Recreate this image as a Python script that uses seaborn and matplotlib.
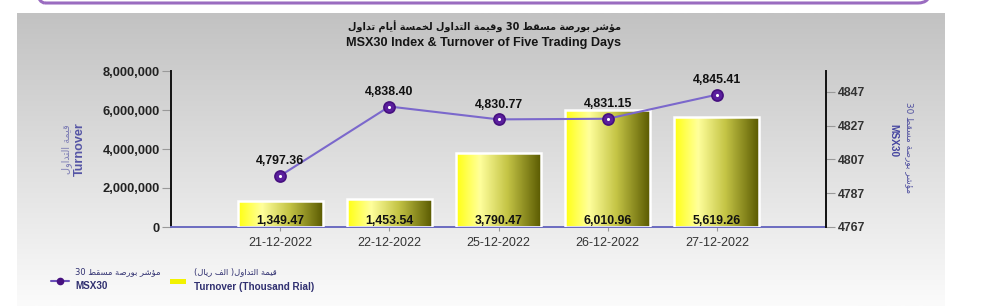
import re
import numpy as np
import matplotlib
matplotlib.use("Agg")
import matplotlib.pyplot as plt
import seaborn as sns
from matplotlib.colors import LinearSegmentedColormap
from matplotlib.patches import FancyBboxPatch, Rectangle
from matplotlib.lines import Line2D
from matplotlib.transforms import IdentityTransform
from matplotlib.ticker import FuncFormatter

# ---------------- data ----------------
dates = ["21-12-2022", "22-12-2022", "25-12-2022", "26-12-2022", "27-12-2022"]
turnover_thousand = [1349.47, 1453.54, 3790.47, 6010.96, 5619.26]
turnover_labels = ["1,349.47", "1,453.54", "3,790.47", "6,010.96", "5,619.26"]
msx30 = [4797.36, 4838.40, 4830.77, 4831.15, 4845.41]
msx30_labels = ["4,797.36", "4,838.40", "4,830.77", "4,831.15", "4,845.41"]
left_ticks = [0, 2000000, 4000000, 6000000, 8000000]
right_ticks = [4767, 4787, 4807, 4827, 4847]

title_ar = "مؤشر بورصة مسقط 30 وقيمة التداول لخمسة أيام تداول"
title_en = "MSX30 Index & Turnover of Five Trading Days"
left_ar = "قيمة التداول"
left_en = "Turnover"
right_ar = "مؤشر بورصة مسقط 30"
right_en = "MSX30"
leg1_ar = "مؤشر بورصة مسقط 30"
leg1_en = "MSX30"
leg2_ar = "قيمة التداول( الف ريال)"
leg2_en = "Turnover (Thousand Rial)"

# ---------------- minimal Arabic shaping ----------------
FORMS = {
    'ا': ('\uFE8D', '\uFE8E', None, None),
    'أ': ('\uFE83', '\uFE84', None, None),
    'ؤ': ('\uFE85', '\uFE86', None, None),
    'ب': ('\uFE8F', '\uFE90', '\uFE91', '\uFE92'),
    'ة': ('\uFE93', '\uFE94', None, None),
    'ت': ('\uFE95', '\uFE96', '\uFE97', '\uFE98'),
    'خ': ('\uFEA5', '\uFEA6', '\uFEA7', '\uFEA8'),
    'د': ('\uFEA9', '\uFEAA', None, None),
    'ر': ('\uFEAD', '\uFEAE', None, None),
    'س': ('\uFEB1', '\uFEB2', '\uFEB3', '\uFEB4'),
    'ش': ('\uFEB5', '\uFEB6', '\uFEB7', '\uFEB8'),
    'ص': ('\uFEB9', '\uFEBA', '\uFEBB', '\uFEBC'),
    'ط': ('\uFEC1', '\uFEC2', '\uFEC3', '\uFEC4'),
    'ف': ('\uFED1', '\uFED2', '\uFED3', '\uFED4'),
    'ق': ('\uFED5', '\uFED6', '\uFED7', '\uFED8'),
    'ل': ('\uFEDD', '\uFEDE', '\uFEDF', '\uFEE0'),
    'م': ('\uFEE1', '\uFEE2', '\uFEE3', '\uFEE4'),
    'و': ('\uFEED', '\uFEEE', None, None),
    'ي': ('\uFEF1', '\uFEF2', '\uFEF3', '\uFEF4'),
}


def shape_ar(text):
    out = []
    n = len(text)
    for i, ch in enumerate(text):
        if ch not in FORMS:
            out.append(ch)
            continue
        prev = text[i - 1] if i > 0 else ''
        nxt = text[i + 1] if i < n - 1 else ''
        jp = prev in FORMS and FORMS[prev][2] is not None
        jn = FORMS[ch][2] is not None and nxt in FORMS
        f = FORMS[ch]
        if jp and jn:
            out.append(f[3])
        elif jp:
            out.append(f[1])
        elif jn:
            out.append(f[2])
        else:
            out.append(f[0])
    s = ''.join(out)[::-1]
    s = re.sub(r'[0-9]+', lambda m: m.group()[::-1], s)
    s = s.translate(str.maketrans('()', ')('))
    return s


AR = ['DejaVu Sans']
EN = ['Liberation Sans', 'DejaVu Sans']

sns.set_theme(style="white")
plt.rcParams['font.family'] = EN

W, H = 1000, 306
fig = plt.figure(figsize=(W / 100, H / 100), dpi=100)
fig.patch.set_facecolor('white')

# gradient panel
bg = fig.add_axes([17 / W, 0, (944 - 17) / W, (H - 13) / H], zorder=-10)
bg_cmap = LinearSegmentedColormap.from_list('bg', ['#C2C2C2', '#FBFBFB'])
bg.imshow(np.linspace(0, 1, 256)[:, None], cmap=bg_cmap, aspect='auto',
          extent=[0, 1, 0, 1])
bg.set_axis_off()

# purple rounded border at top
border = FancyBboxPatch((33, H - 3), 930 - 33, 60,
                        boxstyle='round,pad=0,rounding_size=12',
                        transform=IdentityTransform(), fill=False,
                        edgecolor='#9A6CC0', linewidth=2.2)
fig.add_artist(border)

# main axes
ax = fig.add_axes([171 / W, (H - 227) / H, (826 - 171) / W, 156 / H])
ax.patch.set_alpha(0)
turnover_rial = [v * 1000 for v in turnover_thousand]
sns.barplot(x=dates, y=turnover_rial, ax=ax, width=0.78, color='yellow',
            saturation=1, edgecolor='white', linewidth=1.8, zorder=3)

bar_cmap = LinearSegmentedColormap.from_list(
    'bar', [(0, '#FFFF10'), (0.28, '#FFFF9C'), (0.6, '#C4C445'), (1, '#585800')])
grad = np.linspace(0, 1, 256)[None, :]
for p in ax.patches:
    x0, y0 = p.get_x(), p.get_y()
    x1, y1 = x0 + p.get_width(), y0 + p.get_height()
    im = ax.imshow(grad, cmap=bar_cmap, aspect='auto', extent=[x0, x1, y0, y1],
                   zorder=2, interpolation='bilinear')
    im.set_clip_path(p)
    p.set_facecolor('none')

for p, lab in zip(ax.patches, turnover_labels):
    ax.annotate(lab, (p.get_x() + p.get_width() / 2, 0), xytext=(0, 3),
                textcoords='offset pixels', ha='center', va='baseline',
                fontsize=8.8, fontweight='bold', color='#111111', zorder=6)

ax.set_xlim(-1, 5)
ax.set_ylim(0, 8000000)
ax.set_yticks(left_ticks)
ax.yaxis.set_major_formatter(FuncFormatter(lambda v, _: f"{v:,.0f}"))
ax.tick_params(axis='y', left=True, length=6.5, width=0.8, color='#999999',
               pad=1.5, labelsize=9.3, labelcolor='#222222')
for t in ax.get_yticklabels():
    t.set_fontweight('bold')
ax.tick_params(axis='x', bottom=True, length=3, width=0.8, color='#999999',
               pad=4, labelsize=9, labelcolor='#333333')
ax.set_xlabel('')
ax.set_ylabel('')
ax.spines['top'].set_visible(False)
ax.spines['right'].set_visible(False)
ax.spines['left'].set_color('#111111')
ax.spines['left'].set_linewidth(1.4)
ax.spines['bottom'].set_color('#6B6BC0')
ax.spines['bottom'].set_linewidth(1.4)

# twin axis with MSX30 line
ax2 = ax.twinx()
ax2.patch.set_alpha(0)
sns.lineplot(x=dates, y=msx30, ax=ax2, sort=False, color='#7B68CC',
             linewidth=1.5, marker='o', markersize=8,
             markerfacecolor='#5B1F9E', markeredgecolor='#46107F',
             markeredgewidth=1.2, zorder=7)
sns.scatterplot(x=dates, y=msx30, ax=ax2, s=5, color='white', linewidth=0,
                zorder=8)
for xd, yv, lab in zip(dates, msx30, msx30_labels):
    ax2.annotate(lab, (xd, yv), xytext=(0, 10.5), textcoords='offset points',
                 ha='center', va='center', fontsize=8.9, fontweight='bold',
                 color='#111111', zorder=9)
ax2.set_ylim(4767, 4767 + 80 * 156 / 135)
ax2.set_yticks(right_ticks)
ax2.tick_params(axis='y', right=True, length=6.5, width=0.8, color='#999999',
                pad=2, labelsize=8.8, labelcolor='#333333')
for t in ax2.get_yticklabels():
    t.set_fontweight('bold')
ax2.set_ylabel('')
ax2.set_xlim(-1, 5)
for s in ['top', 'left', 'bottom']:
    ax2.spines[s].set_visible(False)
ax2.spines['right'].set_color('#111111')
ax2.spines['right'].set_linewidth(1.4)

# titles
fig.text(484 / W, 1 - 27 / H, shape_ar(title_ar), ha='center', va='center',
         fontsize=7.0, fontweight='bold', family=AR, color='#151515')
fig.text(484 / W, 1 - 43 / H, title_en, ha='center', va='center',
         fontsize=9.1, fontweight='bold', color='#151515')

# axis labels
fig.text(67 / W, 1 - 149 / H, shape_ar(left_ar), rotation=90, ha='center',
         va='center', fontsize=7.0, family=AR, color='#7E7EB5')
fig.text(80 / W, 1 - 149 / H, left_en, rotation=90, ha='center', va='center',
         fontsize=9.1, fontweight='bold', color='#5555A5')
fig.text(909 / W, 1 - 148 / H, shape_ar(right_ar), rotation=270, ha='center',
         va='center', fontsize=6.4, family=AR, color='#5050A0')
fig.text(893 / W, 1 - 141 / H, right_en, rotation=270, ha='center',
         va='center', fontsize=7.3, fontweight='bold', color='#4545A0')

# legend (manual)
fig.add_artist(Line2D([51 / W, 69 / W], [1 - 281 / H, 1 - 281 / H],
                      color='#6A50B8', linewidth=1.5, transform=fig.transFigure))
fig.add_artist(Line2D([60 / W], [1 - 281 / H], marker='o', markersize=4.5,
                      color='#46107F', transform=fig.transFigure))
fig.add_artist(Rectangle((170 / W, 1 - 283.5 / H), 16 / W, 5 / H,
                         facecolor='#F2F200', edgecolor='none',
                         transform=fig.transFigure))
fig.text(75 / W, 1 - 272 / H, shape_ar(leg1_ar), ha='left', va='center',
         fontsize=6.0, family=AR, color='#303070')
fig.text(75 / W, 1 - 286 / H, leg1_en, ha='left', va='center',
         fontsize=7.1, fontweight='bold', color='#303070')
fig.text(194 / W, 1 - 272 / H, shape_ar(leg2_ar), ha='left', va='center',
         fontsize=6.0, family=AR, color='#303070')
fig.text(194 / W, 1 - 287 / H, leg2_en, ha='left', va='center',
         fontsize=7.1, fontweight='bold', color='#303070')

fig.savefig('out.png', dpi=100, facecolor='white')
